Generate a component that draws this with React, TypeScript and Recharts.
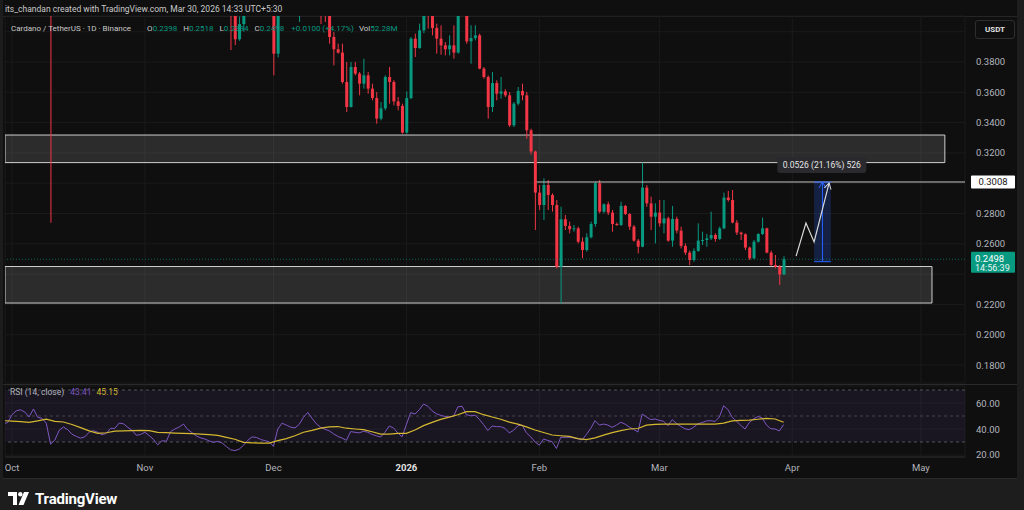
import React from 'react'
import {
  ComposedChart, Bar, Line, XAxis, YAxis, CartesianGrid,
  ReferenceArea, ReferenceLine, ReferenceDot,
} from 'recharts'

// ADA/USDT daily candles, day 0 = Oct 1 2025 ... day 180 = Mar 30 2026
const opens = [
  0.805, 0.830, 0.845, 0.850, 0.835, 0.850, 0.865, 0.810, 0.820, 0.785,
  0.630, 0.675, 0.705, 0.695, 0.660, 0.635, 0.610, 0.630, 0.650, 0.660,
  0.630, 0.620, 0.645, 0.655, 0.670, 0.680, 0.655, 0.640, 0.620, 0.610,
  0.605, 0.600, 0.595, 0.550, 0.525, 0.550, 0.545, 0.575, 0.570, 0.590,
  0.565, 0.550, 0.540, 0.510, 0.505, 0.500, 0.480, 0.470, 0.465, 0.450,
  0.430, 0.425, 0.415, 0.395, 0.405, 0.425, 0.420, 0.428, 0.435, 0.430,
  0.425, 0.422, 0.3855, 0.420, 0.440, 0.430, 0.420, 0.418, 0.425, 0.440,
  0.445, 0.430, 0.422, 0.418, 0.415, 0.3965, 0.3884, 0.3862, 0.3668, 0.3503,
  0.3767, 0.3723, 0.3657, 0.3712, 0.3624, 0.3562, 0.3426, 0.3494, 0.3701, 0.3668,
  0.3540, 0.3510, 0.3334, 0.3562, 0.3954, 0.3892, 0.4009, 0.420, 0.418, 0.4024,
  0.3954, 0.3910, 0.3884, 0.3910, 0.3862, 0.420, 0.425, 0.3936, 0.3958, 0.3976,
  0.3756, 0.3701, 0.3503, 0.3661, 0.3591, 0.3606, 0.3580, 0.3382, 0.3525, 0.3609,
  0.3580, 0.3349, 0.3209, 0.2938, 0.2856, 0.2988, 0.2922, 0.2856, 0.2449, 0.2762,
  0.2718, 0.2696, 0.2702, 0.2614, 0.2559, 0.2643, 0.2731, 0.3000, 0.2812, 0.2861,
  0.2806, 0.2731, 0.2724, 0.2850, 0.2797, 0.2713, 0.2621, 0.2581, 0.2971, 0.2867,
  0.2779, 0.2806, 0.2735, 0.2768, 0.2621, 0.2764, 0.2687, 0.2586, 0.2542, 0.2493,
  0.2553, 0.2621, 0.2625, 0.2636, 0.2658, 0.2632, 0.2702, 0.2905, 0.2889, 0.2740,
  0.2674, 0.2663, 0.2575, 0.2504, 0.2614, 0.2665, 0.2702, 0.2542, 0.2460, 0.2449,
  0.2398,
]
const highs = [
  0.835, 0.850, 0.865, 0.870, 0.860, 0.880, 0.870, 0.830, 0.825, 0.800,
  0.690, 0.720, 0.730, 0.705, 0.675, 0.645, 0.640, 0.655, 0.670, 0.665,
  0.640, 0.650, 0.665, 0.680, 0.690, 0.685, 0.665, 0.650, 0.630, 0.625,
  0.620, 0.610, 0.600, 0.560, 0.560, 0.565, 0.580, 0.585, 0.600, 0.600,
  0.570, 0.565, 0.545, 0.520, 0.515, 0.505, 0.490, 0.485, 0.470, 0.455,
  0.445, 0.430, 0.420, 0.410, 0.430, 0.435, 0.430, 0.440, 0.445, 0.435,
  0.430, 0.428, 0.425, 0.445, 0.450, 0.435, 0.428, 0.430, 0.445, 0.455,
  0.450, 0.435, 0.425, 0.422, 0.418, 0.3998, 0.3921, 0.3921, 0.3800, 0.3800,
  0.3800, 0.3734, 0.3822, 0.3734, 0.3657, 0.3602, 0.3536, 0.3712, 0.3767, 0.3680,
  0.3569, 0.3525, 0.3606, 0.3965, 0.3987, 0.4053, 0.425, 0.430, 0.422, 0.4053,
  0.4042, 0.3932, 0.3976, 0.4042, 0.425, 0.430, 0.428, 0.4042, 0.4042, 0.3987,
  0.3767, 0.3712, 0.3734, 0.3679, 0.3701, 0.3620, 0.3602, 0.3536, 0.3635, 0.3657,
  0.3602, 0.3360, 0.3215, 0.2988, 0.3032, 0.3021, 0.2933, 0.2889, 0.2845, 0.2790,
  0.2746, 0.2724, 0.2713, 0.2643, 0.2669, 0.2746, 0.3010, 0.3021, 0.2867, 0.2878,
  0.2823, 0.2740, 0.2878, 0.2856, 0.2801, 0.2724, 0.2632, 0.3136, 0.2988, 0.2911,
  0.2867, 0.2889, 0.2889, 0.2779, 0.2850, 0.2779, 0.2713, 0.2603, 0.2555, 0.2570,
  0.2735, 0.2680, 0.2665, 0.2812, 0.2669, 0.2713, 0.2938, 0.2949, 0.2955, 0.2757,
  0.2680, 0.2669, 0.2581, 0.2625, 0.2669, 0.2773, 0.2707, 0.2555, 0.2526, 0.2460,
  0.2518,
]
const lows = [
  0.800, 0.820, 0.835, 0.830, 0.825, 0.845, 0.800, 0.790, 0.770, 0.2739,
  0.610, 0.660, 0.680, 0.650, 0.620, 0.590, 0.600, 0.625, 0.640, 0.620,
  0.600, 0.615, 0.640, 0.650, 0.660, 0.645, 0.630, 0.610, 0.600, 0.600,
  0.595, 0.590, 0.540, 0.510, 0.515, 0.535, 0.540, 0.560, 0.565, 0.560,
  0.540, 0.530, 0.500, 0.490, 0.490, 0.470, 0.460, 0.455, 0.440, 0.425,
  0.415, 0.3879, 0.3912, 0.394, 0.400, 0.415, 0.414, 0.420, 0.425, 0.418,
  0.416, 0.3712, 0.383, 0.415, 0.425, 0.414, 0.415, 0.4064, 0.420, 0.435,
  0.425, 0.415, 0.4050, 0.4064, 0.3921, 0.3778, 0.3855, 0.3657, 0.3470, 0.3500,
  0.3712, 0.3580, 0.3624, 0.3591, 0.3547, 0.3393, 0.3415, 0.3481, 0.3525, 0.3514,
  0.3481, 0.3327, 0.3327, 0.3554, 0.3833, 0.3888, 0.3990, 0.4020, 0.3976, 0.3855,
  0.3848, 0.3844, 0.3844, 0.3822, 0.3855, 0.414, 0.3920, 0.3789, 0.3943, 0.3752,
  0.3690, 0.3426, 0.3470, 0.3547, 0.3558, 0.3569, 0.3371, 0.3371, 0.3514, 0.3547,
  0.3294, 0.3190, 0.2691, 0.2823, 0.2757, 0.2823, 0.2812, 0.2438, 0.2207, 0.2691,
  0.2669, 0.2680, 0.2603, 0.2504, 0.2548, 0.2636, 0.2713, 0.2801, 0.2801, 0.2790,
  0.2680, 0.2718, 0.2718, 0.2790, 0.2691, 0.2614, 0.2537, 0.2577, 0.2845, 0.2691,
  0.2603, 0.2713, 0.2669, 0.2614, 0.2581, 0.2669, 0.2570, 0.2526, 0.2460, 0.2482,
  0.2548, 0.2592, 0.2581, 0.2625, 0.2614, 0.2625, 0.2696, 0.2878, 0.2735, 0.2658,
  0.2625, 0.2559, 0.2493, 0.2498, 0.2608, 0.2658, 0.2537, 0.2453, 0.2438, 0.2328,
  0.2394,
]
const closes = [
  0.830, 0.845, 0.850, 0.835, 0.850, 0.865, 0.810, 0.820, 0.785, 0.630,
  0.675, 0.705, 0.695, 0.660, 0.635, 0.610, 0.630, 0.650, 0.660, 0.630,
  0.620, 0.645, 0.655, 0.670, 0.680, 0.655, 0.640, 0.620, 0.610, 0.605,
  0.600, 0.595, 0.550, 0.525, 0.550, 0.545, 0.575, 0.570, 0.590, 0.565,
  0.550, 0.540, 0.510, 0.505, 0.500, 0.480, 0.470, 0.465, 0.450, 0.430,
  0.425, 0.415, 0.395, 0.405, 0.425, 0.420, 0.428, 0.435, 0.430, 0.425,
  0.422, 0.3855, 0.420, 0.440, 0.430, 0.420, 0.418, 0.425, 0.440, 0.445,
  0.430, 0.422, 0.418, 0.415, 0.3965, 0.3884, 0.3862, 0.3668, 0.3503, 0.3767,
  0.3723, 0.3657, 0.3712, 0.3624, 0.3562, 0.3426, 0.3494, 0.3701, 0.3668, 0.3540,
  0.3510, 0.3334, 0.3562, 0.3954, 0.3892, 0.4009, 0.420, 0.418, 0.4024, 0.3954,
  0.3910, 0.3884, 0.3910, 0.3862, 0.420, 0.425, 0.3936, 0.3958, 0.3976, 0.3756,
  0.3701, 0.3503, 0.3661, 0.3591, 0.3606, 0.3580, 0.3382, 0.3525, 0.3609, 0.3580,
  0.3349, 0.3209, 0.2938, 0.2856, 0.2988, 0.2922, 0.2856, 0.2449, 0.2762, 0.2718,
  0.2696, 0.2702, 0.2614, 0.2559, 0.2643, 0.2731, 0.3000, 0.2812, 0.2861, 0.2806,
  0.2731, 0.2724, 0.2850, 0.2797, 0.2713, 0.2621, 0.2581, 0.2971, 0.2867, 0.2779,
  0.2806, 0.2735, 0.2768, 0.2621, 0.2764, 0.2687, 0.2586, 0.2542, 0.2493, 0.2553,
  0.2621, 0.2625, 0.2636, 0.2658, 0.2632, 0.2702, 0.2905, 0.2889, 0.2740, 0.2674,
  0.2663, 0.2575, 0.2504, 0.2614, 0.2665, 0.2702, 0.2542, 0.2460, 0.2449, 0.2398,
  0.2498,
]

// RSI(14) per day, first value is day -2 (Sep 29)
const rsiValues = [
  44, 45, 51, 54, 54.8, 53, 49.3, 55.4, 49, 48.2,
  44.5, 28.3, 31.5, 39, 41.5, 39.5, 36, 34.3, 33, 34,
  37.5, 38.7, 37.5, 35.6, 36.6, 40.5, 40.5, 44.6, 44, 41.3,
  39, 35.2, 35.8, 37.5, 35, 32, 27.8, 31, 30.5, 38,
  40, 41.5, 43.8, 39.5, 37.2, 34.6, 33.2, 32.3, 30.8, 29.7,
  30.5, 29.3, 26.5, 24, 23.4, 24.5, 27.5, 31.3, 33.9, 33.5,
  32, 31, 30.2, 26.6, 40, 44.5, 43, 41.4, 40.8, 43.6,
  49, 52.8, 48.2, 44, 41.3, 39.8, 38.6, 36.3, 34.3, 33,
  31.3, 38, 37.5, 37, 38.3, 37.5, 35.8, 34.8, 33.8, 37.5,
  42.3, 40.8, 36.9, 34, 43.5, 52.6, 51.5, 54.8, 59.2, 57.5,
  54, 51.7, 50.5, 49.7, 49.3, 49.8, 57, 57.5, 51, 50.2,
  50.6, 47.5, 43.4, 38.8, 42.3, 41.8, 41.8, 40.5, 37, 39,
  42.5, 43, 37, 34, 30, 27.6, 32.3, 31.2, 30.2, 25,
  33.6, 33.6, 33.6, 33.2, 32.5, 31.6, 35.8, 40.5, 46.4, 43,
  43.8, 43, 41.3, 43, 45.2, 43.8, 41.5, 39.7, 37.7, 51.5,
  49.3, 47.2, 47.7, 46.6, 46, 42.5, 47.2, 44.3, 42, 40.1,
  39.5, 41.3, 44, 45, 46.2, 46.4, 45.8, 49.2, 57.9, 55,
  49, 46, 42.8, 40, 45, 47.8, 49.6, 48.5, 43, 40.2,
  40, 38.5, 43.41,
]
// RSI-based MA, read every second day from day -2
const rsiMaValues = [
  46.4, 46.1, 45.6, 45.1, 46.3, 47.6, 45.9, 45.4, 43.5, 41.1,
  38.6, 36.7, 37.1, 38.3, 38.5, 38.7, 39, 38.8, 37.4, 37.2,
  36.9, 36.7, 36.4, 36.1, 35.6, 35.1, 33.6, 32.1, 29.7, 29.4,
  29.2, 29.2, 31.1, 32.6, 34.8, 37.5, 39, 40.7, 41.6, 41.9,
  40.6, 40, 39.5, 37.9, 36.1, 36.1, 36.7, 36.7, 39.2, 42.6,
  45.1, 47.4, 49.1, 51, 53.3, 53.3, 51, 49.2, 47.5, 45.3,
  43.8, 41.6, 39.2, 37.3, 35.4, 34.8, 34.3, 32.6, 31.9, 33.2,
  35.3, 37.2, 38.8, 40, 40.4, 43, 43.5, 43.8, 43.8, 43.8,
  43.8, 43.8, 43.8, 43.8, 44.5, 46.2, 46.6, 46.9, 47.5, 48.1,
  47.7, 45.15,
]

const monthTicks = [0, 31, 61, 92, 123, 151, 182, 212]
const monthLabels = ['Oct', 'Nov', 'Dec', '2026', 'Feb', 'Mar', 'Apr', 'May']
const priceTicks = [0.18, 0.2, 0.22, 0.24, 0.26, 0.28, 0.3, 0.32, 0.34, 0.36, 0.38, 0.4]
// labels hidden behind the axis badges / currency box
const coveredPriceTicks = [0.24, 0.3, 0.4]
const rsiTicks = [20, 40, 60]

// drawings (day, price)
const upperZone = [0.3136, 0.3318]
const upperZoneEnd = 217.6
const lowerZone = [0.2209, 0.245]
const lowerZoneEnd = 214.6
const targetPrice = 0.3008
const targetFrom = 122.4
const lastPrice = 0.2498
const measureDays = [187.1, 191.0]
const measurePrices = [0.2482, 0.3008]
const measureLabelAt = [188.9, 0.312]
const projection = [
  { d: 182.9, p: 0.2519 },
  { d: 185.2, p: 0.2737 },
  { d: 187.1, p: 0.2612 },
  { d: 190.6, p: 0.3001 },
]

const X_DOMAIN: [number, number] = [-1.63, 222.3]
const PRICE_DOMAIN: [number, number] = [0.16812, 0.41036]
const RSI_DOMAIN: [number, number] = [18.46, 73.08]

const UP = '#089981'
const DOWN = '#f23645'
const TEXT = '#b2b5be'
const GRID = '#1b1b1b'
const FONT = 'Roboto, "Noto Sans", sans-serif'

const candleRows = opens.map((o, i) => ({
  d: i, o, h: highs[i], l: lows[i], c: closes[i], range: [lows[i], highs[i]],
}))
const rsiRows = rsiValues.map((v, i) => ({
  d: i - 2, rsi: v, ma: i % 2 === 0 ? rsiMaValues[i / 2] : null,
}))
const measureLine = [
  { d: (measureDays[0] + measureDays[1]) / 2, p: measurePrices[0] },
  { d: (measureDays[0] + measureDays[1]) / 2, p: measurePrices[1] },
]

function Candle(props: any) {
  const { x, y, width, height, payload, background } = props
  if (!payload || payload.o == null) return null
  const { o, h, l, c } = payload
  const color = c >= o ? UP : DOWN
  const cx = x + width / 2
  let yOf: (v: number) => number
  if (background && background.height) {
    const [lo, hi] = PRICE_DOMAIN
    yOf = v => background.y + ((hi - v) / (hi - lo)) * background.height
  } else {
    const top = Math.min(y, y + height)
    const ratio = h === l ? 0 : Math.abs(height) / (h - l)
    yOf = v => top + (h - v) * ratio
  }
  const bTop = yOf(Math.max(o, c))
  const bBot = yOf(Math.min(o, c))
  return (
    <g>
      <line x1={cx} x2={cx} y1={yOf(h)} y2={yOf(l)} stroke={color} strokeWidth={1} />
      <rect x={cx - 1.5} y={bTop} width={3} height={Math.max(bBot - bTop, 1)} fill={color} />
    </g>
  )
}

function PriceTick(props: any) {
  const { x, y, payload } = props
  if (coveredPriceTicks.some(v => Math.abs(v - payload.value) < 1e-6)) return null
  return (
    <text x={x} y={y} dy={3.5} textAnchor="start" fill={TEXT} fontSize={9.5} fontFamily={FONT}>
      {payload.value.toFixed(4)}
    </text>
  )
}

function RsiTick(props: any) {
  const { x, y, payload } = props
  return (
    <text x={x} y={y} dy={3.5} textAnchor="start" fill={TEXT} fontSize={9.5} fontFamily={FONT}>
      {payload.value.toFixed(2)}
    </text>
  )
}

function TimeTick(props: any) {
  const { x, y, payload } = props
  const i = monthTicks.indexOf(payload.value)
  const label = monthLabels[i]
  const bold = label === '2026'
  return (
    <text x={x} y={y} dy={6} textAnchor="middle" fill={bold ? '#e0e0e0' : TEXT}
      fontSize={9.5} fontWeight={bold ? 700 : 400} fontFamily={FONT}>
      {label}
    </text>
  )
}

const targetBadge = (p: any) => {
  const vb = p.viewBox
  const x = vb.x + vb.width + 6
  return (
    <g>
      <rect x={x} y={vb.y - 6.5} width={44} height={13} fill="#ffffff" rx={1} />
      <text x={x + 22} y={vb.y + 3.5} textAnchor="middle" fontSize={9.5} fill="#131313" fontFamily={FONT}>
        {targetPrice.toFixed(4)}
      </text>
    </g>
  )
}

const lastBadge = (p: any) => {
  const vb = p.viewBox
  const x = vb.x + vb.width + 6
  return (
    <g>
      <rect x={x} y={vb.y - 7.5} width={44} height={21} fill={UP} rx={1} />
      <text x={x + 4} y={vb.y + 2.5} fontSize={9.5} fill="#ffffff" fontFamily={FONT}>
        {lastPrice.toFixed(4)}
      </text>
      <text x={x + 4} y={vb.y + 11.5} fontSize={9} fill="#e8f5f2" fontFamily={FONT}>
        14:56:39
      </text>
    </g>
  )
}

const measureLabel = (p: any) => {
  const { cx, cy } = p
  return (
    <g>
      <rect x={cx - 44.5} y={cy - 8} width={89} height={16} rx={3} fill="#2a2a2e" />
      <text x={cx} y={cy + 3} textAnchor="middle" fontSize={8.5} fill="#e6e6e6" fontFamily={FONT}>
        0.0526 (21.16%) 526
      </text>
    </g>
  )
}

export default function App() {
  return (
    <div style={{ position: 'absolute', left: 0, top: 0, width: 1024, height: 510, background: '#1d1d1d', overflow: 'hidden', fontFamily: FONT }}>
      <div style={{ position: 'absolute', left: 3, top: 0, width: 1014, height: 478, background: '#0f0f0f', borderBottom: '1px solid #2a2a2a' }} />
      <div style={{ position: 'absolute', left: 5, top: 4, fontSize: 8.5, color: '#c9c9c9', whiteSpace: 'nowrap' }}>
        its_chandan created with TradingView.com, Mar 30, 2026 14:33 UTC+5:30
      </div>
      <div style={{ position: 'absolute', left: 3, top: 16, width: 1014, height: 1, background: '#262626' }} />

      <div style={{ position: 'absolute', left: 0, top: 0 }}>
        <ComposedChart width={1024} height={384} data={candleRows} margin={{ top: 16, right: 0, bottom: 1, left: 5 }}>
          <defs>
            <marker id="arrowW" markerWidth="10" markerHeight="10" refX="7" refY="5" orient="auto" markerUnits="userSpaceOnUse">
              <path d="M1,1.5 L7,5 L1,8.5" fill="none" stroke="#d8d8d8" strokeWidth="1" />
            </marker>
            <marker id="arrowB" markerWidth="10" markerHeight="10" refX="7" refY="5" orient="auto" markerUnits="userSpaceOnUse">
              <path d="M1,1.5 L7,5 L1,8.5" fill="none" stroke="#2962ff" strokeWidth="1" />
            </marker>
          </defs>
          <CartesianGrid stroke={GRID} />
          <XAxis dataKey="d" type="number" domain={X_DOMAIN} allowDataOverflow ticks={monthTicks} hide />
          <YAxis orientation="right" width={59} domain={PRICE_DOMAIN} allowDataOverflow ticks={priceTicks}
            tick={<PriceTick />} tickLine={false} axisLine={false} tickSize={0} tickMargin={11} interval={0} />
          <ReferenceArea x1={X_DOMAIN[0]} x2={upperZoneEnd} y1={upperZone[0]} y2={upperZone[1]}
            fill="#ffffff" fillOpacity={0.12} stroke="#cfcfcf" strokeWidth={1} ifOverflow="hidden" />
          <ReferenceArea x1={X_DOMAIN[0]} x2={lowerZoneEnd} y1={lowerZone[0]} y2={lowerZone[1]}
            fill="#ffffff" fillOpacity={0.12} stroke="#cfcfcf" strokeWidth={1} ifOverflow="hidden" />
          <ReferenceLine y={lastPrice} stroke={UP} strokeOpacity={0.6} strokeDasharray="1 2" />
          <ReferenceLine segment={[{ x: targetFrom, y: targetPrice }, { x: X_DOMAIN[1], y: targetPrice }]}
            stroke="#c4c4c4" strokeWidth={1} ifOverflow="visible" />
          <ReferenceArea x1={measureDays[0]} x2={measureDays[1]} y1={measurePrices[0]} y2={measurePrices[1]}
            fill="#2962ff" fillOpacity={0.22} stroke="none" />
          <ReferenceLine segment={[{ x: measureDays[0], y: measurePrices[1] }, { x: measureDays[1], y: measurePrices[1] }]} stroke="#2962ff" />
          <ReferenceLine segment={[{ x: measureDays[0], y: measurePrices[0] }, { x: measureDays[1], y: measurePrices[0] }]} stroke="#2962ff" />
          <Bar dataKey="range" barSize={3} shape={<Candle />} isAnimationActive={false} />
          <Line data={measureLine} dataKey="p" type="linear" stroke="#2962ff" strokeWidth={1} dot={false}
            markerEnd="url(#arrowB)" isAnimationActive={false} />
          <Line data={projection} dataKey="p" type="linear" stroke="#d8d8d8" strokeWidth={1.2} dot={false}
            markerEnd="url(#arrowW)" isAnimationActive={false} />
          <ReferenceDot x={measureLabelAt[0]} y={measureLabelAt[1]} r={0} ifOverflow="visible" shape={measureLabel} />
          <ReferenceLine y={targetPrice} stroke="none" label={targetBadge} />
          <ReferenceLine y={lastPrice} stroke="none" label={lastBadge} />
        </ComposedChart>
      </div>

      <div style={{ position: 'absolute', left: 3, top: 384, width: 1014, height: 1, background: '#2a2a2a' }} />

      <div style={{ position: 'absolute', left: 0, top: 384 }}>
        <ComposedChart width={1024} height={95} data={rsiRows} margin={{ top: 2, right: 0, bottom: 0, left: 5 }}>
          <CartesianGrid stroke={GRID} />
          <XAxis dataKey="d" type="number" domain={X_DOMAIN} allowDataOverflow ticks={monthTicks} interval={0}
            tick={<TimeTick />} height={22} tickLine={false} axisLine={{ stroke: '#2a2a2a' }} />
          <YAxis orientation="right" width={59} domain={RSI_DOMAIN} allowDataOverflow ticks={rsiTicks}
            tick={<RsiTick />} tickLine={false} axisLine={false} tickSize={0} tickMargin={11} interval={0} />
          <ReferenceArea y1={30} y2={70} fill="#7e57c2" fillOpacity={0.1} stroke="none" />
          <ReferenceLine y={70} stroke="#787b86" strokeOpacity={0.6} strokeDasharray="3 3" />
          <ReferenceLine y={50} stroke="#787b86" strokeOpacity={0.45} strokeDasharray="3 3" />
          <ReferenceLine y={30} stroke="#787b86" strokeOpacity={0.6} strokeDasharray="3 3" />
          <Line dataKey="rsi" type="linear" stroke="#7e57c2" strokeWidth={1} dot={false} isAnimationActive={false} />
          <Line dataKey="ma" type="linear" stroke="#d4b830" strokeWidth={1.2} dot={false} connectNulls isAnimationActive={false} />
        </ComposedChart>
      </div>

      <div style={{ position: 'absolute', left: 11, top: 24, fontSize: 8, color: '#c9c9c9', whiteSpace: 'nowrap' }}>
        Cardano / TetherUS · 1D · Binance
        <span style={{ marginLeft: 16 }}>O</span><span style={{ color: UP }}>0.2398</span>
        <span style={{ marginLeft: 6 }}>H</span><span style={{ color: UP }}>0.2518</span>
        <span style={{ marginLeft: 6 }}>L</span><span style={{ color: UP }}>0.2394</span>
        <span style={{ marginLeft: 6 }}>C</span><span style={{ color: UP }}>0.2498</span>
        <span style={{ marginLeft: 7, color: UP }}>+0.0100 (+4.17%)</span>
        <span style={{ marginLeft: 5 }}>Vol</span><span style={{ color: UP }}>52.28M</span>
      </div>
      <div style={{ position: 'absolute', left: 975, top: 20, width: 38, height: 17, border: '1px solid #2e2e2e', borderRadius: 3,
        color: '#e0e0e0', fontSize: 8, fontWeight: 700, display: 'flex', alignItems: 'center', justifyContent: 'center' }}>
        USDT
      </div>
      <div style={{ position: 'absolute', left: 10, top: 387, fontSize: 8.5, color: TEXT, whiteSpace: 'nowrap' }}>
        RSI (14, close)
        <span style={{ marginLeft: 6, color: '#7e57c2' }}>43.41</span>
        <span style={{ marginLeft: 5, color: '#d4b830' }}>45.15</span>
      </div>

      <div style={{ position: 'absolute', left: 8, top: 490, display: 'flex', alignItems: 'center', gap: 5 }}>
        <svg width={22} height={14} viewBox="0 0 22 14">
          <path d="M0,0 H9 V13 H5 V4 H0 Z" fill="#ffffff" />
          <circle cx={12.3} cy={2.2} r={2.2} fill="#ffffff" />
          <path d="M16,0 H21 L15.5,13 H10.5 Z" fill="#ffffff" />
        </svg>
        <span style={{ color: '#ffffff', fontSize: 15, fontWeight: 700, letterSpacing: -0.2 }}>TradingView</span>
      </div>
    </div>
  )
}
